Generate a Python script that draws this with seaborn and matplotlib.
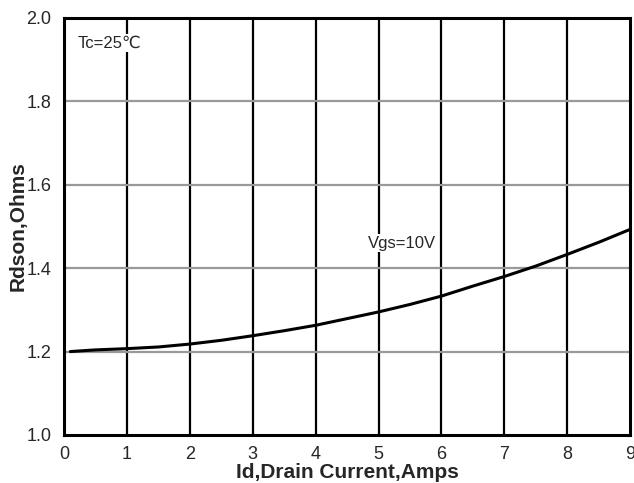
import numpy as np
import pandas as pd
import seaborn as sns
import matplotlib.pyplot as plt

# curve
id_amps = [0.1, 0.5, 1.0, 1.5, 2.0, 2.5, 3.0, 3.5, 4.0, 4.5, 5.0, 5.5, 6.0, 6.5, 7.0, 7.5, 8.0, 8.5, 9.0]
rdson = [1.200, 1.204, 1.207, 1.211, 1.218, 1.227, 1.238, 1.250, 1.263, 1.279, 1.295, 1.313, 1.333, 1.357, 1.380, 1.405, 1.433, 1.462, 1.493]

xticks = list(range(0, 10))
yticks = [1.0, 1.2, 1.4, 1.6, 1.8, 2.0]

df = pd.DataFrame({'Id': id_amps, 'Rdson': rdson})

sns.set_style('white')
plt.rcParams['font.family'] = ['Liberation Sans', 'DejaVu Sans']

fig = plt.figure(figsize=(6.34, 4.83), dpi=100)
ax = fig.add_axes([0.101, 0.0994, 0.893, 0.8636])

# grid
for x in xticks[1:-1]:
    ax.axvline(x, color='black', lw=1.6, zorder=1)
for y in yticks[1:-1]:
    ax.axhline(y, color='#999999', lw=1.6, zorder=1)

sns.lineplot(data=df, x='Id', y='Rdson', color='black', lw=2.2, ax=ax, zorder=3)

ax.set_xlim(0, 9)
ax.set_ylim(1.0, 2.0)
ax.set_xticks(xticks)
ax.set_yticks(yticks)
ax.set_yticklabels(['%.1f' % v for v in yticks])
ax.tick_params(labelsize=13, length=0)
ax.tick_params(axis='x', pad=8)
ax.tick_params(axis='y', pad=9)

for s in ax.spines.values():
    s.set_color('black')
    s.set_linewidth(2.2)

ax.set_xlabel('Id,Drain Current,Amps', fontsize=15, fontweight='bold', labelpad=0)
ax.set_ylabel('Rdson,Ohms', fontsize=15, fontweight='bold')
ax.yaxis.set_label_coords(-0.064, 0.5)

ax.text(0.22, 1.94, 'Tc=25\u2103', fontsize=12, va='center', ha='left', zorder=4,
        bbox=dict(facecolor='white', edgecolor='none', pad=1))
ax.text(5.37, 1.46, 'Vgs=10V', fontsize=12, va='center', ha='center', zorder=4,
        bbox=dict(facecolor='white', edgecolor='none', pad=1))

fig.savefig('out.png', dpi=100)
